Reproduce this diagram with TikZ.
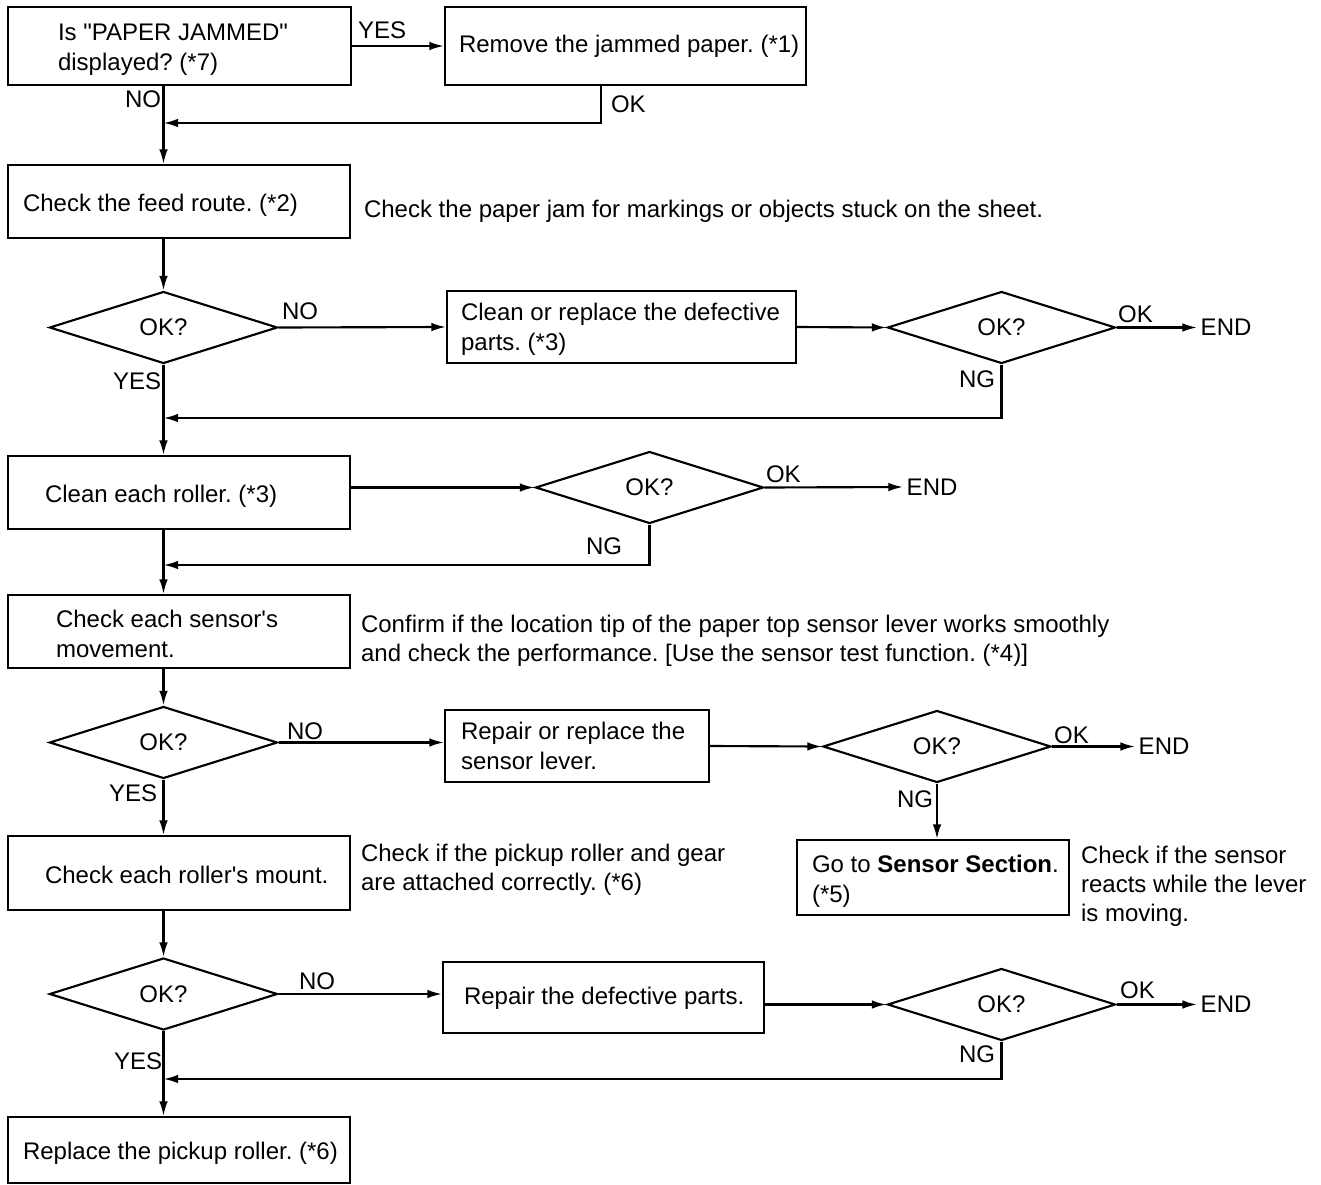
\documentclass[tikz,border=0pt]{standalone}
\usepackage{fontspec}
\setmainfont{Liberation Sans}
\usetikzlibrary{arrows.meta,shapes.geometric}
\newcommand{\pxunit}{0.75pt}
\frenchspacing
\begin{document}
\begin{tikzpicture}[x=0.75pt,y=-0.75pt,
  every node/.style={font=\fontsize{18pt}{22.4pt}\selectfont},
  line width=1.6pt,
  box/.style={draw,rectangle,inner sep=0pt},
  dec/.style={draw,diamond,inner sep=0pt,minimum width=228*\pxunit,minimum height=72*\pxunit},
  txt/.style={anchor=base west,inner sep=0pt,align=left},
  note/.style={txt,font=\fontsize{18pt}{21.8pt}\selectfont},
  fin/.style={anchor=west,inner xsep=2pt,inner ysep=0pt},
  arr/.style={-{Latex[length=11pt,width=6.5pt]}}]

\useasboundingbox[fill=white] (0,0) rectangle (1321,1185);

% process boxes
\node[box,minimum width=343*\pxunit,minimum height=78*\pxunit] (a) at (179.5,46) {};
\node[box,minimum width=361*\pxunit,minimum height=78*\pxunit] (b) at (625.5,46) {};
\node[box,minimum width=342*\pxunit,minimum height=73*\pxunit] (c) at (179,201.5) {};
\node[box,minimum width=349*\pxunit,minimum height=72*\pxunit] (e) at (621.5,327) {};
\node[box,minimum width=342*\pxunit,minimum height=73*\pxunit] (f) at (179,492.5) {};
\node[box,minimum width=342*\pxunit,minimum height=73*\pxunit] (g) at (179,631.5) {};
\node[box,minimum width=264*\pxunit,minimum height=72*\pxunit] (h) at (577,746) {};
\node[box,minimum width=272*\pxunit,minimum height=75*\pxunit] (i) at (933,877.5) {};
\node[box,minimum width=342*\pxunit,minimum height=74*\pxunit] (j) at (179,873) {};
\node[box,minimum width=321*\pxunit,minimum height=71*\pxunit] (k) at (603.5,997.5) {};
\node[box,minimum width=342*\pxunit,minimum height=66*\pxunit] (l) at (179,1150) {};

% decisions
\node[dec] (d1) at (163.5,327.5) {OK?};
\node[dec] (d2) at (1001.5,327.5) {OK?};
\node[dec] (d3) at (649.5,487.5) {OK?};
\node[dec] (d4) at (163.5,742.5) {OK?};
\node[dec] (d5) at (937,746.5) {OK?};
\node[dec] (d6) at (163.5,994) {OK?};
\node[dec] (d7) at (1001.5,1004.5) {OK?};

% end marks
\node[fin] (end1) at (1197,327.5) {END};
\node[fin] (end2) at (903,487) {END};
\node[fin] (end3) at (1135,746.5) {END};
\node[fin] (end4) at (1197,1004.5) {END};

% texts in the boxes (base = baseline of the last line)
\node[txt] at (57,70.4) {Is \textquotedbl PAPER JAMMED\textquotedbl\\displayed? (*7)};
\node[txt] at (458,52.5) {Remove the jammed paper. (*1)};
\node[txt] at (22,211.5) {Check the feed route. (*2)};
\node[txt] at (460,350.4) {Clean or replace the defective\\parts. (*3)};
\node[txt] at (44,502.5) {Clean each roller. (*3)};
\node[txt] at (55,657.4) {Check each sensor\textquotesingle s\\movement.};
\node[txt] at (460,769.4) {Repair or replace the\\sensor lever.};
\node[txt] at (811,902.4) {Go to \textbf{Sensor Section}.\\(*5)};
\node[txt] at (44,883.5) {Check each roller\textquotesingle s mount.};
\node[txt] at (463,1004.5) {Repair the defective parts.};
\node[txt] at (22,1159.5) {Replace the pickup roller. (*6)};

% notes beside the steps
\node[txt] at (363,217.5) {Check the paper jam for markings or objects stuck on the sheet.};
\node[note] at (360,661.6) {Confirm if the location tip of the paper top sensor lever works smoothly\\and check the performance. [Use the sensor test function. (*4)]};
\node[note] at (360,890.6) {Check if the pickup roller and gear\\are attached correctly. (*6)};
\node[note] at (1080,921.6) {Check if the sensor\\reacts while the lever\\is moving.};

% branch labels
\node[txt] at (357,38.5) {YES};
\node[txt] at (124,107.5) {NO};
\node[txt] at (610,112.5) {OK};
\node[txt] at (281,319.5) {NO};
\node[txt] at (1117,322.5) {OK};
\node[txt] at (958,387.5) {NG};
\node[txt] at (112,389.5) {YES};
\node[txt] at (765,482.5) {OK};
\node[txt] at (585,554.5) {NG};
\node[txt] at (286,739.5) {NO};
\node[txt] at (1053,743.5) {OK};
\node[txt] at (896,807.5) {NG};
\node[txt] at (108,801.5) {YES};
\node[txt] at (298,989.5) {NO};
\node[txt] at (1119,998.5) {OK};
\node[txt] at (958,1062.5) {NG};
\node[txt] at (113,1069.5) {YES};

% return levels of the loops
\coordinate (r1) at (601,123);
\coordinate (n2) at (0,418);
\coordinate (n3) at (0,565);
\coordinate (n7) at (0,1079);

% main column
\draw[arr] (a.south -| d1) -- (c.north -| d1);
\draw[arr] (c.south -| d1) -- (d1.north);
\draw[arr] (d1.south) -- (f.north -| d1);
\draw[arr] (f.south -| d1) -- (g.north -| d1);
\draw[arr] (g.south -| d4) -- (d4.north);
\draw[arr] (d4.south) -- (j.north -| d4);
\draw[arr] (j.south -| d6) -- (d6.north);
\draw[arr] (d6.south) -- (l.north -| d6);

% side branches
\draw[arr] (a.east) -- (b.west);
\draw[arr] (b.south -| r1) |- (r1 -| d1);
\draw[arr] (d1.east) -- (e.west);
\draw[arr] (e.east) -- (d2.west);
\draw[arr] (d2.east) -- (end1.west);
\draw[arr] (d2.south) |- (n2 -| d1);
\draw[arr] (f.east |- d3) -- (d3.west);
\draw[arr] (d3.east) -- (end2.west);
\draw[arr] (d3.south) |- (n3 -| d1);
\draw[arr] (d4.east) -- (h.west |- d4);
\draw[arr] (h.east) -- (d5.west);
\draw[arr] (d5.east) -- (end3.west);
\draw[arr] (d5.south) -- (i.north -| d5);
\draw[arr] (d6.east) -- (k.west |- d6);
\draw[arr] (k.east |- d7) -- (d7.west);
\draw[arr] (d7.east) -- (end4.west);
\draw[arr] (d7.south) |- (n7 -| d1);
\end{tikzpicture}
\end{document}
